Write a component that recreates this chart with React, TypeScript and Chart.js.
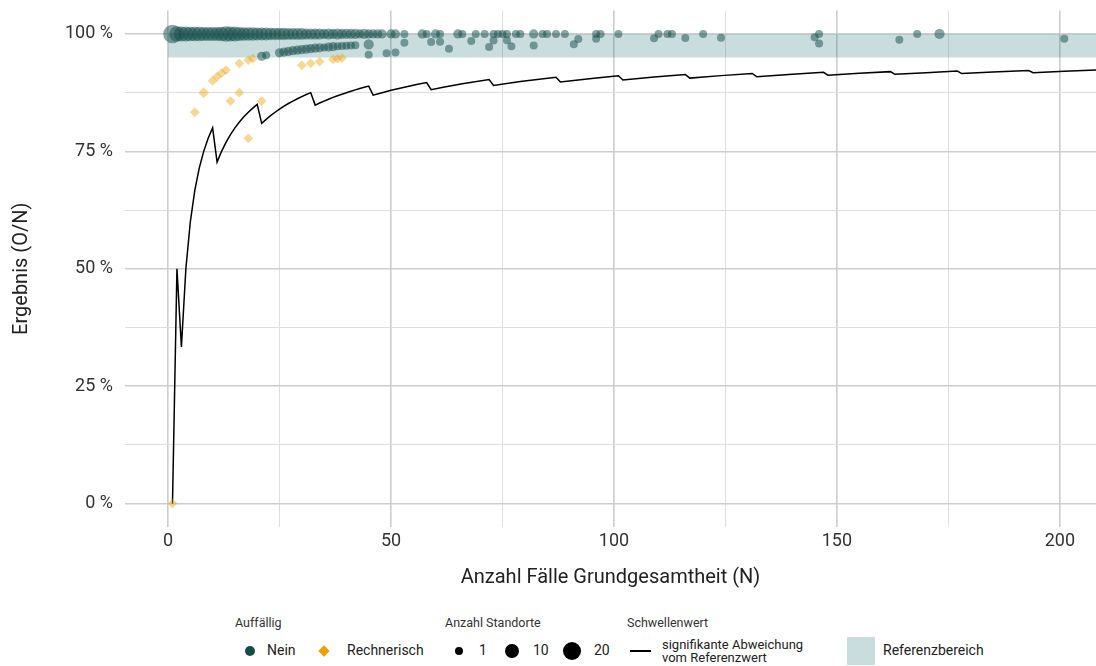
import React, { useEffect, useRef } from 'react';
import { Chart, registerables } from 'chart.js';

Chart.register(...registerables);

// ---------- data ----------
// x axis ticks (N) and y axis ticks (%)
const xTicks = [0, 25, 50, 75, 100, 125, 150, 175, 200];
const yTicks = [0, 12.5, 25, 37.5, 50, 62.5, 75, 87.5, 100];

// Referenzbereich (95 % - 100 %)
const bandLower = 95;
const bandUpper = 100;
const bandFromN = 0;
const bandToN = 215;

// Schwellenwert: signifikante Abweichung vom Referenzwert
const thresholdN = [
  1, 2, 3, 4, 5, 6, 7, 8, 9, 10,
  11, 12, 13, 14, 15, 16, 17, 18, 19, 20,
  21, 22, 23, 24, 25, 26, 27, 28, 29, 30, 31, 32,
  33, 34, 35, 36, 37, 38, 39, 40, 41, 42, 43, 44, 45,
  46, 48, 50, 52, 54, 56, 58,
  59, 62, 66, 72,
  73, 79, 87,
  88, 95, 101,
  102, 109, 116,
  117, 124, 131,
  132, 140, 147,
  148, 155, 162,
  163, 170, 177,
  178, 185, 193,
  194, 201, 209,
];
const thresholdValue = [
  0, 50, 33.33, 50, 60, 66.67, 71.43, 75, 77.78, 80,
  72.73, 75, 76.92, 78.57, 80, 81.25, 82.35, 83.33, 84.21, 85,
  80.95, 81.82, 82.61, 83.33, 84, 84.62, 85.19, 85.71, 86.21, 86.67, 87.1, 87.5,
  84.85, 85.29, 85.71, 86.11, 86.49, 86.84, 87.18, 87.5, 87.8, 88.1, 88.37, 88.64, 88.89,
  86.96, 87.5, 88, 88.46, 88.89, 89.29, 89.66,
  88.14, 88.71, 89.39, 90.28,
  89.04, 89.87, 90.8,
  89.77, 90.53, 91.09,
  90.2, 90.83, 91.38,
  90.6, 91.13, 91.6,
  90.91, 91.43, 91.84,
  91.22, 91.61, 91.98,
  91.41, 91.76, 92.09,
  91.57, 91.89, 92.23,
  91.75, 92.04, 92.34,
];

// Auffällig: Nein — Standorte mit 100 %
const neinFullN = [
  1, 2, 3, 4, 5, 6, 7, 8, 9, 10, 11, 12, 13, 14, 15, 16, 17, 18, 19, 20,
  21, 22, 23, 24, 25, 26, 27, 28, 29, 30, 31, 32, 33, 34, 35, 36, 37, 38, 39, 40,
  41, 42, 43, 44, 45, 46, 47,
  48, 50, 51, 53, 57, 58, 60, 61, 65, 66, 69, 71, 73, 74, 75, 76, 78, 79,
  82, 84, 85, 87, 89, 96, 97, 101, 110, 112, 113, 120, 146, 168, 173,
];
const neinFullCount = [
  20, 12, 11, 11, 10, 10, 10, 9, 9, 9, 9, 10, 12, 11, 11, 9, 8, 8, 8, 7,
  7, 7, 6, 6, 6, 6, 5, 5, 5, 5, 4, 4, 4, 4, 3, 4, 3, 4, 3, 3,
  3, 3, 2, 3, 2, 2, 2,
  2, 2, 2, 1, 2, 1, 2, 1, 2, 1, 1, 1, 1, 1, 1, 1, 1, 1,
  2, 1, 1, 1, 1, 1, 1, 1, 1, 1, 1, 1, 1, 1, 3,
];
// Auffällig: Nein — Standorte unter 100 %
const neinPartN = [
  21, 22, 25, 26, 27, 28, 29, 30, 31, 32, 33, 34, 35, 36, 37, 38, 39, 40, 41, 42,
  45, 45, 49, 51, 53, 59, 61, 63, 68, 72, 73, 76, 77, 82, 91, 92, 96,
  109, 116, 124, 145, 146, 164, 201,
];
const neinPartValue = [
  95.24, 95.45, 96.0, 96.15, 96.3, 96.43, 96.55, 96.67, 96.77, 96.88,
  96.97, 97.06, 97.14, 97.22, 97.3, 97.37, 97.44, 97.5, 97.56, 97.62,
  97.78, 95.56, 95.92, 96.08, 98.11, 98.31, 98.36, 96.83, 98.53, 97.22, 98.63, 98.68, 97.4, 97.56, 97.8, 98.91, 98.96,
  99.08, 99.14, 99.19, 99.31, 97.95, 98.78, 99.0,
];
const neinPartCount = [
  2, 1, 2, 2, 2, 2, 2, 2, 2, 2, 2, 2, 1, 2, 2, 1, 1, 1, 1, 1,
  3, 1, 1, 1, 1, 1, 1, 1, 1, 1, 1, 1, 1, 1, 1, 1, 1,
  1, 1, 1, 1, 1, 1, 1,
];

// Auffällig: Rechnerisch
const rechN = [1, 6, 8, 10, 11, 12, 13, 14, 16, 16, 18, 18, 19, 21, 30, 32, 34, 37, 38, 39];
const rechValue = [
  0, 83.33, 87.5, 90, 90.91, 91.67, 92.31, 85.71, 93.75, 87.5,
  94.44, 77.78, 94.74, 85.71, 93.33, 93.75, 94.12, 94.59, 94.74, 94.87,
];
const rechCount = [1, 1, 2, 1, 1, 1, 1, 1, 1, 1, 1, 1, 1, 1, 1, 1, 1, 1, 1, 1];

// legend size keys
const sizeKeys = [1, 10, 20];

// ---------- styling ----------
const TEAL = 'rgba(20,78,74,0.5)';
const TEAL_SOLID = '#134d4a';
const ORANGE = 'rgba(236,160,0,0.42)';
const ORANGE_SOLID = '#e9a000';
const BAND = 'rgba(40,120,125,0.25)';
const FONT = 'Roboto, "Noto Sans", sans-serif';

const circleRadius = (c: number) => 2.47 + 1.53 * Math.sqrt(c);
const diamondRadius = (c: number) => 3.6 + 1.3 * Math.sqrt(c);

const zeroPadding = (scale: any) => {
  scale.paddingTop = 0;
  scale.paddingBottom = 0;
  scale.paddingLeft = 0;
  scale.paddingRight = 0;
};

export default function App() {
  const canvasRef = useRef<HTMLCanvasElement | null>(null);

  useEffect(() => {
    document.body.style.margin = '0';
    const canvas = canvasRef.current;
    if (!canvas) return;

    const neinData = [
      ...neinFullN.map((n, i) => ({ x: n, y: 100, c: neinFullCount[i] })),
      ...neinPartN.map((n, i) => ({ x: n, y: neinPartValue[i], c: neinPartCount[i] })),
    ];
    const rechData = rechN.map((n, i) => ({ x: n, y: rechValue[i], c: rechCount[i] }));
    const lineData = thresholdN.map((n, i) => ({ x: n, y: thresholdValue[i] }));

    const chart = new Chart(canvas, {
      type: 'scatter',
      data: {
        datasets: [
          {
            label: 'Nein',
            data: neinData,
            order: 0,
            backgroundColor: TEAL,
            borderWidth: 0,
            pointStyle: 'circle',
            pointRadius: (ctx: any) => circleRadius(ctx.raw ? ctx.raw.c : 1),
          } as any,
          {
            label: 'Rechnerisch',
            data: rechData,
            order: 1,
            backgroundColor: ORANGE,
            borderWidth: 0,
            pointStyle: 'rectRot',
            pointRadius: (ctx: any) => diamondRadius(ctx.raw ? ctx.raw.c : 1),
          } as any,
          {
            type: 'line',
            label: 'Schwellenwert',
            data: lineData,
            order: 2,
            borderColor: '#000000',
            borderWidth: 1.5,
            pointRadius: 0,
            tension: 0,
            fill: false,
          } as any,
          {
            type: 'line',
            label: 'RefUpper',
            data: [
              { x: bandFromN, y: bandUpper },
              { x: bandToN, y: bandUpper },
            ],
            order: 3,
            borderWidth: 0,
            borderColor: 'rgba(0,0,0,0)',
            pointRadius: 0,
            fill: false,
          } as any,
          {
            type: 'line',
            label: 'Referenzbereich',
            data: [
              { x: bandFromN, y: bandLower },
              { x: bandToN, y: bandLower },
            ],
            order: 4,
            borderWidth: 0,
            borderColor: 'rgba(0,0,0,0)',
            backgroundColor: BAND,
            pointRadius: 0,
            fill: '-1',
          } as any,
        ],
      },
      options: {
        responsive: false,
        animation: false,
        layout: { autoPadding: false, padding: { top: 10.5, left: 0, right: 0, bottom: 0 } },
        plugins: {
          legend: { display: false },
          tooltip: { enabled: false },
        },
        scales: {
          x: {
            type: 'linear',
            min: -9.65,
            max: 208.1,
            afterBuildTicks: (scale: any) => {
              scale.ticks = xTicks.map((v) => ({ value: v }));
            },
            afterFit: (scale: any) => {
              scale.height = 73;
              zeroPadding(scale);
            },
            border: { display: false },
            grid: {
              drawTicks: false,
              color: (ctx: any) => (ctx.tick && ctx.tick.value % 50 === 0 ? '#cdcdcd' : '#dedede'),
              lineWidth: (ctx: any) => (ctx.tick && ctx.tick.value % 50 === 0 ? 1.6 : 1),
            },
            ticks: {
              padding: 4,
              autoSkip: false,
              maxRotation: 0,
              color: '#333333',
              font: { family: FONT, size: 18 },
              callback: (v: any) => (Number(v) % 50 === 0 ? String(v) : ''),
            },
            title: {
              display: true,
              text: 'Anzahl Fälle Grundgesamtheit (N)',
              color: '#222222',
              font: { family: FONT, size: 20 },
              padding: { top: 0, bottom: 10 },
            },
          },
          y: {
            type: 'linear',
            min: -5,
            max: 105,
            afterBuildTicks: (scale: any) => {
              scale.ticks = yTicks.map((v) => ({ value: v }));
            },
            afterFit: (scale: any) => {
              scale.width = 125;
              zeroPadding(scale);
            },
            border: { display: false },
            grid: {
              drawTicks: false,
              color: (ctx: any) => (ctx.tick && ctx.tick.value % 25 === 0 ? '#cdcdcd' : '#dedede'),
              lineWidth: (ctx: any) => (ctx.tick && ctx.tick.value % 25 === 0 ? 1.6 : 1),
            },
            ticks: {
              padding: 12,
              autoSkip: false,
              color: '#333333',
              font: { family: FONT, size: 18 },
              callback: (v: any) => (Number(v) % 25 === 0 ? `${v} %` : ''),
            },
            title: {
              display: true,
              text: 'Ergebnis (O/N)',
              color: '#222222',
              font: { family: FONT, size: 20 },
              padding: { top: 10, bottom: 0 },
            },
          },
        },
      } as any,
    });

    return () => chart.destroy();
  }, []);

  const txt = (extra: React.CSSProperties): React.CSSProperties => ({
    position: 'absolute',
    transform: 'translateY(-50%)',
    fontFamily: FONT,
    color: '#222',
    whiteSpace: 'nowrap',
    lineHeight: 1.1,
    ...extra,
  });

  const rowY = 651;
  const titleY = 623;
  const keyCenters = [458.5, 512, 572];
  const keyLabelsLeft = [479, 533, 594];

  return (
    <div style={{ position: 'absolute', left: 0, top: 0, width: 1096, height: 666, background: '#fff', overflow: 'hidden' }}>
      <canvas ref={canvasRef} width={1096} height={600} style={{ display: 'block', width: 1096, height: 600 }} />

      {/* Auffällig */}
      <div style={txt({ left: 235, top: titleY, fontSize: 12.5, color: '#333' })}>Auffällig</div>
      <div style={{ position: 'absolute', left: 250 - 5, top: rowY - 5, width: 10, height: 10, borderRadius: '50%', background: TEAL_SOLID }} />
      <div style={txt({ left: 267, top: rowY, fontSize: 14 })}>Nein</div>
      <div style={{ position: 'absolute', left: 324 - 4, top: rowY - 4, width: 8, height: 8, background: ORANGE_SOLID, transform: 'rotate(45deg)' }} />
      <div style={txt({ left: 347, top: rowY, fontSize: 14 })}>Rechnerisch</div>

      {/* Anzahl Standorte */}
      <div style={txt({ left: 445, top: titleY, fontSize: 12.5, color: '#333' })}>Anzahl Standorte</div>
      {sizeKeys.map((k, i) => {
        const r = circleRadius(k);
        return (
          <React.Fragment key={k}>
            <div style={{ position: 'absolute', left: keyCenters[i] - r, top: rowY - r, width: 2 * r, height: 2 * r, borderRadius: '50%', background: '#000' }} />
            <div style={txt({ left: keyLabelsLeft[i], top: rowY, fontSize: 14 })}>{String(k)}</div>
          </React.Fragment>
        );
      })}

      {/* Schwellenwert */}
      <div style={txt({ left: 627, top: titleY, fontSize: 12.5, color: '#333' })}>Schwellenwert</div>
      <div style={{ position: 'absolute', left: 630, top: rowY - 0.75, width: 21, height: 1.5, background: '#000' }} />
      <div style={txt({ left: 662, top: rowY, fontSize: 13, lineHeight: '13px' })}>
        signifikante Abweichung
        <br />
        vom Referenzwert
      </div>

      {/* Referenzbereich */}
      <div style={{ position: 'absolute', left: 847, top: 637, width: 28, height: 28, background: '#c9ddde' }} />
      <div style={txt({ left: 883, top: rowY, fontSize: 14 })}>Referenzbereich</div>
    </div>
  );
}
